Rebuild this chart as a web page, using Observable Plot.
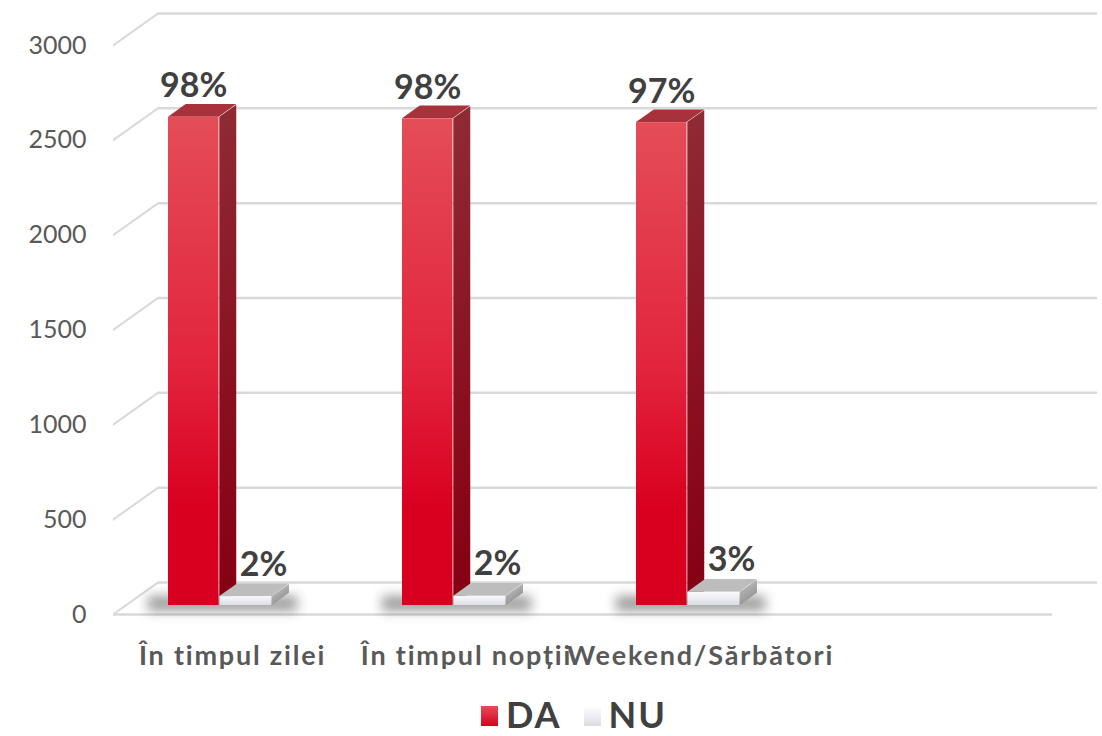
<!DOCTYPE html>
<html>
<head>
<meta charset="utf-8">
<script src="https://cdn.jsdelivr.net/npm/d3@7"></script>
<script src="https://cdn.jsdelivr.net/npm/@observablehq/plot@0.6"></script>
<style>
  html, body { margin: 0; padding: 0; background: #fff; }
  body { width: 1102px; height: 736px; overflow: hidden; font-family: Lato, "Open Sans", sans-serif; }
  #legend { display: flex; justify-content: center; align-items: center; padding-left: 46px; height: 44px; color: #404040; font-weight: 700; font-size: 36px; letter-spacing: 2px; font-family: Lato, sans-serif; }
  #legend .item { display: flex; align-items: center; margin: 0 11px; }
  #legend .sw { width: 17px; height: 20px; margin-right: 8px; margin-top: 4px; }
</style>
</head>
<body>
<div id="chart"></div>
<div id="legend"></div>
<script>
// ---- data ----
const categories = ["În timpul zilei", "În timpul nopții", "Weekend/Sărbători"];
const slots = [...categories, ""]; // the reference keeps an empty fourth slot
const seriesNames = ["DA", "NU"];
const daValues = [2574, 2566, 2546];
const nuValues = [47, 49, 70];
const daLabels = ["98%", "98%", "97%"];
const nuLabels = ["2%", "2%", "3%"];
const yTicks = [0, 500, 1000, 1500, 2000, 2500, 3000];

// ---- styling / layout ----
const W = 1102, H = 692;
const mL = 113, mR = 50, mT = 45, mB = 78;
const bw = (W - mL - mR) / slots.length;      // band width
const wallDX = 45, wallDY = 32;                 // back wall depth
const barDX = 17.7, barDY = 12.7;               // bar depth
const sink = -9;                                // bars sit inside the floor
const grid = "#d9d9d9";
const daL = 53, daR = 104.3, nuR = 157;

const skewSide = -Math.atan(barDY / barDX) * 180 / Math.PI;
const skewTop = -Math.atan(barDX / barDY) * 180 / Math.PI;
const skewWall = -Math.atan(wallDY / wallDX) * 180 / Math.PI;

const tag = (s) => () => s;

function barSet(values, name, left, right, fills) {
  return [
    Plot.barY(values, {x: categories, y1: 0, y2: values, insetLeft: right, insetRight: bw - right - barDX,
      dy: sink, fill: fills.side, ariaLabel: tag(name + "-side")}),
    Plot.barY(values, {x: categories, y1: values, y2: values, insetTop: -barDY, insetLeft: left, insetRight: bw - right,
      dy: sink, fill: fills.top, ariaLabel: tag(name + "-top")}),
    Plot.barY(values, {x: categories, y1: 0, y2: values, insetLeft: left, insetRight: bw - right,
      dy: sink, fill: fills.front, ariaLabel: tag(name + "-front")})
  ];
}

const chart = Plot.plot({
  width: W, height: H,
  marginLeft: mL, marginRight: mR, marginTop: mT, marginBottom: mB,
  style: {fontFamily: "Lato, 'Open Sans', sans-serif", background: "transparent", overflow: "visible"},
  x: {type: "band", domain: slots, padding: 0, label: null},
  y: {domain: [0, 3000], label: null},
  marks: [
    // back wall gridlines
    Plot.ruleY(yTicks, {dx: wallDX, dy: -wallDY, stroke: grid, strokeWidth: 2.5}),
    // left wall diagonals
    Plot.ruleY(yTicks, {insetRight: W - mL - mR - wallDX, stroke: grid, strokeWidth: 2.5, ariaLabel: tag("wall-diagonal")}),
    // floor front edge
    Plot.ruleY([0], {stroke: grid, strokeWidth: 2.5}),
    // floor shadows
    Plot.barY(categories, {x: categories, y1: 0, y2: 0, insetTop: -15, insetLeft: daL - 20, insetRight: bw - nuR - 26,
      dy: -3, fill: "#3a3a3a", fillOpacity: 0.5, ariaLabel: tag("shadow")}),
    ...barSet(daValues, "da", daL, daR, {side: "url(#daSide)", top: "#a8323b", front: "url(#daFront)"}),
    ...barSet(nuValues, "nu", daR, nuR, {side: "url(#nuSide)", top: "#bdbdbd", front: "url(#nuFront)"}),
    // data labels
    Plot.text(daValues, {x: categories, y: daValues, text: daLabels, dx: (daL + daR) / 2 - bw / 2, dy: sink - 20,
      lineAnchor: "bottom", fontSize: 34, fontWeight: "bold", fill: "#404040"}),
    Plot.text(nuValues, {x: categories, y: nuValues, text: nuLabels, dx: 31, dy: sink - 21,
      lineAnchor: "bottom", fontSize: 34, fontWeight: "bold", fill: "#404040"}),
    // axes
    Plot.axisY(yTicks, {tickSize: 0, tickPadding: 27, fontSize: 25, fill: "#595959", label: null, tickFormat: (d) => String(d)}),
    Plot.axisX({tickSize: 0, tickPadding: 31, fontSize: 27, fontWeight: "bold", fill: "#595959", label: null})
  ]
});

document.getElementById("chart").appendChild(chart);

// gradients
const svg = d3.select(chart);
const defs = svg.insert("defs", ":first-child");
function grad(id, stops) {
  const g = defs.append("linearGradient").attr("id", id).attr("x1", 0).attr("y1", 0).attr("x2", 0).attr("y2", 1);
  stops.forEach(([o, c]) => g.append("stop").attr("offset", o).attr("stop-color", c));
}
grad("daFront", [[0, "#e44d58"], [0.5, "#e2253d"], [0.8, "#d9001f"], [1, "#d9001f"]]);
grad("daSide", [[0, "#8f2a33"], [0.6, "#8a0f1d"], [1, "#860012"]]);
grad("nuFront", [[0, "#fbfbfd"], [1, "#dcdce6"]]);
grad("nuSide", [[0, "#b0b0b0"], [1, "#9a9a9a"]]);

// fake depth with skew transforms
svg.selectAll('[aria-label="wall-diagonal"]')
  .style("transform-box", "fill-box").style("transform-origin", "left center")
  .style("transform", `skewY(${skewWall}deg)`);
svg.selectAll('rect[aria-label$="-side"]')
  .style("transform-box", "fill-box").style("transform-origin", "left bottom")
  .style("transform", `skewY(${skewSide}deg)`);
svg.selectAll('rect[aria-label$="-top"]')
  .style("transform-box", "fill-box").style("transform-origin", "left bottom")
  .style("transform", `skewX(${skewTop}deg)`);
svg.selectAll('[aria-label="shadow"]').style("filter", "blur(6px)");
svg.selectAll('g[aria-label="x-axis tick label"] text').attr("letter-spacing", "1.8px");

// legend
const legendColors = {DA: "linear-gradient(#e44d58, #d9001f)", NU: "linear-gradient(#ffffff, #dcdce6)"};
const legend = d3.select("#legend");
seriesNames.forEach(s => {
  const it = legend.append("div").attr("class", "item");
  it.append("div").attr("class", "sw").style("background", legendColors[s]);
  it.append("span").text(s);
});
</script>
</body>
</html>
